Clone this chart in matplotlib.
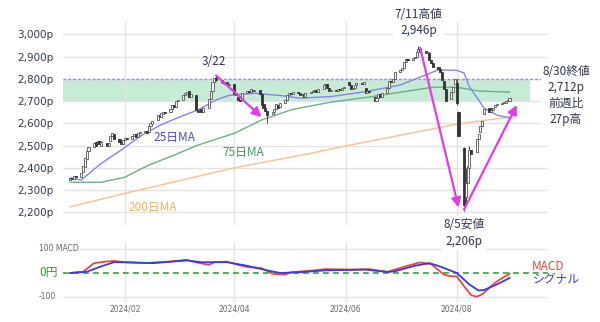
import matplotlib
matplotlib.use("Agg")
import matplotlib.pyplot as plt
import matplotlib.dates as mdates
import numpy as np
import pandas as pd

JP = ['Noto Sans CJK JP', 'DejaVu Sans']

# ---------------- data ----------------
days = pd.bdate_range('2024-01-02', '2024-08-30')

opens = [
    # Jan
    2345, 2355, 2350, 2360, 2360, 2380, 2405, 2440, 2475, 2495, 2515, 2505, 2520, 2500, 2510, 2500,
    2520, 2545, 2550, 2530, 2515, 2505,
    # Feb
    2525, 2535, 2530, 2545, 2550, 2540, 2555, 2560, 2565, 2560, 2590, 2595, 2615, 2635, 2630, 2640,
    2650, 2650, 2665, 2680, 2675,
    # Mar
    2700, 2705, 2725, 2730, 2745, 2720, 2725, 2660, 2655, 2665, 2650, 2670, 2710, 2745, 2785, 2805,
    2795, 2785, 2775, 2785, 2770,
    # Apr
    2775, 2735, 2720, 2705, 2705, 2735, 2745, 2740, 2750, 2745, 2750, 2730, 2685, 2670, 2655, 2640,
    2650, 2665, 2680, 2675, 2690, 2705,
    # May
    2725, 2735, 2730, 2740, 2735, 2725, 2730, 2720, 2735, 2740, 2745, 2750, 2740, 2755, 2770, 2775,
    2760, 2745, 2750, 2745, 2755, 2750, 2760,
    # Jun
    2785, 2770, 2755, 2760, 2770, 2780, 2775, 2760, 2735, 2745, 2720, 2700, 2715, 2730, 2720, 2735,
    2760, 2790, 2785, 2800,
    # Jul
    2830, 2840, 2850, 2875, 2890, 2885, 2895, 2900, 2920, 2935, 2925, 2915, 2915, 2885, 2870, 2855,
    2845, 2830, 2790, 2755, 2710, 2740, 2775,
    # Aug
    2780, 2650, 2490, 2270, 2330, 2400, 2480, 2470, 2530, 2560, 2590, 2640, 2670, 2650, 2660, 2675,
    2680, 2685, 2690, 2690, 2700, 2700,
]
closes = [
    # Jan
    2355, 2350, 2362, 2358, 2378, 2410, 2445, 2475, 2495, 2510, 2500, 2520, 2505, 2515, 2500, 2510,
    2545, 2555, 2530, 2515, 2505, 2525,
    # Feb
    2535, 2530, 2545, 2550, 2540, 2555, 2560, 2565, 2555, 2590, 2600, 2610, 2635, 2630, 2645, 2650,
    2645, 2665, 2680, 2675, 2700,
    # Mar
    2705, 2725, 2735, 2740, 2720, 2730, 2660, 2650, 2665, 2650, 2670, 2710, 2745, 2785, 2805, 2795,
    2785, 2780, 2785, 2770, 2775,
    # Apr
    2730, 2725, 2705, 2700, 2735, 2745, 2740, 2755, 2745, 2750, 2730, 2680, 2670, 2655, 2635, 2650,
    2665, 2685, 2670, 2690, 2705, 2725,
    # May
    2735, 2730, 2740, 2735, 2725, 2730, 2720, 2735, 2740, 2745, 2750, 2740, 2755, 2770, 2775, 2760,
    2745, 2750, 2745, 2755, 2750, 2760, 2765,
    # Jun
    2770, 2755, 2760, 2770, 2780, 2775, 2785, 2735, 2745, 2740, 2700, 2715, 2730, 2720, 2735, 2760,
    2790, 2785, 2800, 2830,
    # Jul
    2840, 2850, 2875, 2890, 2885, 2895, 2900, 2920, 2935, 2925, 2915, 2920, 2885, 2870, 2855, 2845,
    2830, 2795, 2755, 2700, 2740, 2765, 2800,
    # Aug
    2690, 2545, 2235, 2330, 2410, 2480, 2460, 2530, 2550, 2590, 2610, 2665, 2650, 2660, 2670, 2680,
    2685, 2690, 2695, 2700, 2705, 2712,
]

# notable wicks
wick_dates = ['2024-03-22', '2024-04-19', '2024-07-11', '2024-08-01', '2024-08-05', '2024-08-06', '2024-08-08']
wick_high = [2815, 2655, 2946, 2800, 2495, 2400, 2500]
wick_low = [2790, 2600, 2920, 2680, 2206, 2230, 2390]

ma25_dates = ['2024-01-02', '2024-01-08', '2024-01-19', '2024-01-30', '2024-02-09', '2024-02-20', '2024-03-01',
              '2024-03-12', '2024-03-22', '2024-03-29', '2024-04-12', '2024-04-26', '2024-05-07', '2024-05-24',
              '2024-06-12', '2024-07-01', '2024-07-15', '2024-07-22', '2024-08-01', '2024-08-05', '2024-08-08',
              '2024-08-13', '2024-08-16', '2024-08-23', '2024-08-30']
ma25 = [2355, 2345, 2420, 2480, 2540, 2590, 2625, 2660, 2705, 2725, 2735, 2725, 2713, 2720,
        2742, 2772, 2817, 2840, 2838, 2826, 2763, 2705, 2668, 2637, 2624]

ma75_dates = ['2024-01-02', '2024-01-19', '2024-02-01', '2024-02-14', '2024-02-28', '2024-03-12', '2024-04-01',
              '2024-04-16', '2024-05-02', '2024-05-08', '2024-05-24', '2024-06-14', '2024-07-03', '2024-07-19',
              '2024-08-01', '2024-08-13', '2024-08-30']
ma75 = [2335, 2335, 2358, 2412, 2457, 2502, 2555, 2615, 2660, 2670, 2695, 2718, 2742, 2762, 2762, 2745, 2740]

ma200_dates = ['2024-01-02', '2024-02-01', '2024-04-01', '2024-05-08', '2024-06-01', '2024-08-01', '2024-08-30']
ma200 = [2225, 2285, 2400, 2457, 2498, 2596, 2628]

macd_dates = ['2024-01-02', '2024-01-09', '2024-01-15', '2024-01-22', '2024-01-26', '2024-02-01', '2024-02-12',
              '2024-02-26', '2024-03-06', '2024-03-11', '2024-03-18', '2024-03-21', '2024-03-28', '2024-04-03',
              '2024-04-08', '2024-04-16', '2024-04-22', '2024-04-29', '2024-05-02', '2024-05-15', '2024-05-21',
              '2024-06-03', '2024-06-14', '2024-06-24', '2024-06-28', '2024-07-05', '2024-07-12', '2024-07-18',
              '2024-07-25', '2024-07-29', '2024-08-01', '2024-08-05', '2024-08-09', '2024-08-12', '2024-08-15',
              '2024-08-22', '2024-08-26', '2024-08-30']
macd = [0, 5, 41, 48, 50, 45, 41, 48, 55, 44, 34, 45, 47, 34, 25, 20, -3, -7, 3, 11, 16, 14, 16, 5, 14,
        30, 44, 37, -7, -14, -14, -55, -93, -99, -89, -41, -21, -3]

sig_dates = ['2024-01-02', '2024-01-11', '2024-01-18', '2024-01-26', '2024-02-05', '2024-02-16', '2024-03-06',
             '2024-03-14', '2024-03-28', '2024-04-08', '2024-04-19', '2024-04-26', '2024-05-07', '2024-05-21',
             '2024-06-12', '2024-06-24', '2024-06-28', '2024-07-09', '2024-07-17', '2024-07-23', '2024-08-01',
             '2024-08-08', '2024-08-13', '2024-08-16', '2024-08-23', '2024-08-30']
signal = [0, 5, 25, 45, 44, 41, 52, 45, 45, 30, 11, 0, 3, 11, 14, 4, 7, 30, 41, 27, 0, -48, -73, -71, -48, -21]

yticks = [2200, 2300, 2400, 2500, 2600, 2700, 2800, 2900, 3000]
month_ticks = ['2024-02-01', '2024-04-01', '2024-06-01', '2024-08-01']
month_labels = ['2024/02', '2024/04', '2024/06', '2024/08']

# ---------------- figure ----------------
W, H = 600, 322
fig = plt.figure(figsize=(W / 100, H / 100), dpi=100)


def rect(x0, y0, x1, y1):
    return [x0 / W, 1 - y1 / H, (x1 - x0) / W, (y1 - y0) / H]


ax2 = fig.add_axes(rect(63, 243, 548, 302))
ax = fig.add_axes(rect(63, 22, 548, 225))
ax.patch.set_visible(False)
ax2.patch.set_visible(False)

d = lambda s: mdates.date2num(pd.Timestamp(s))
x0 = d('2024-02-01') - 34.0
x1 = d('2024-08-01') + 50.1
xd = mdates.date2num(days)

grid_c = '#e3e3e3'
for a in (ax, ax2):
    a.set_xlim(x0, x1)
    for s in a.spines.values():
        s.set_visible(False)
    a.set_xticks([d(m) for m in month_ticks])
    a.grid(axis='x', color=grid_c, lw=1)
    a.set_axisbelow(True)
    a.tick_params(length=0)

# main panel
ax.set_ylim(2143, 3055)
ax.set_yticks(yticks)
ax.set_yticklabels([f'{v:,}p' for v in yticks], fontsize=7.5, color='#333a4a')
ax.tick_params(axis='y', pad=7)
ax.set_xticklabels([])
ax.grid(axis='y', color=grid_c, lw=1)

ax.axhspan(2700, 2800, xmin=0, xmax=(530 - 63) / (548 - 63), color='#c6ebd6', zorder=0.5, lw=0)
ax.axhline(2800, color='#9a8ee0', lw=1, ls=(0, (2, 1.5)), zorder=1)

ax.plot(mdates.date2num(pd.to_datetime(ma200_dates)), ma200, color='#f8c494', lw=1.1, zorder=2)
ax.plot(mdates.date2num(pd.to_datetime(ma75_dates)), ma75, color='#6fae86', lw=1.0, zorder=2)
ax.plot(mdates.date2num(pd.to_datetime(ma25_dates)), ma25, color='#8585e6', lw=1.0, zorder=2)

# candles
for wd, hi, lo in zip(wick_dates, wick_high, wick_low):
    ax.vlines(d(wd), lo, hi, color='#444444', lw=0.7, zorder=3)
bw = 1.15
for xx, o, c in zip(xd, opens, closes):
    lo, hi = min(o, c), max(o, c)
    if hi - lo < 4:
        hi = lo + 4
    if c >= o:
        ax.bar(xx, hi - lo, bottom=lo, width=bw, color='white', edgecolor='#555555', lw=0.6, zorder=4)
    else:
        ax.bar(xx, hi - lo, bottom=lo, width=bw, color='#333333', edgecolor='#333333', lw=0.6, zorder=4)

# arrows
mag = '#e23ce2'
aprops = dict(arrowstyle='-|>,head_length=0.55,head_width=0.28', color=mag, lw=1.6, shrinkA=0, shrinkB=0)
ax.annotate('', xy=(d('2024-04-16'), 2628), xytext=(d('2024-03-22'), wick_high[0]), arrowprops=aprops, zorder=6)
ax.annotate('', xy=(d('2024-08-02'), 2222), xytext=(d('2024-07-12'), 2938), arrowprops=aprops, zorder=6)
ax.annotate('', xy=(d('2024-09-03'), 2682), xytext=(d('2024-08-05'), 2212), arrowprops=aprops, zorder=6)

tc = '#2f3550'
ax.text(d('2024-03-21'), 2878, '3/22', fontsize=8.5, color=tc, ha='center', va='center', family=JP)
ax.text(d('2024-07-11'), 3051, '7/11高値\n2,946p', fontsize=8.5, color=tc, ha='center', va='center',
        family=JP, linespacing=1.3, clip_on=False,
        bbox=dict(boxstyle='square,pad=0.1', fc='white', ec='none'), zorder=7)
ax.text(d('2024-08-05'), 2108, '8/5安値\n2,206p', fontsize=8.5, color=tc, ha='center', va='center',
        family=JP, linespacing=1.4, clip_on=False,
        bbox=dict(boxstyle='square,pad=0.15', fc='white', ec='none'), zorder=7)
ax.text(d('2024-09-30'), 2727, '8/30終値\n2,712p\n前週比\n27p高', fontsize=8.5, color=tc, ha='center',
        va='center', family=JP, linespacing=1.3, clip_on=False,
        bbox=dict(boxstyle='square,pad=0.1', fc='white', ec='none'), zorder=7)

ax.text(d('2024-02-28'), 2535, '25日MA', fontsize=8.5, color='#4a4ac4', ha='center', va='center', family=JP)
ax.text(d('2024-04-06'), 2468, '75日MA', fontsize=8.5, color='#3f9e55', ha='center', va='center', family=JP)
ax.text(d('2024-02-16'), 2220, '200日MA', fontsize=8.5, color='#f2b25a', ha='center', va='center', family=JP)

# MACD panel
ax2.set_ylim(-121, 125)
ax2.set_yticks([])
ax2.set_xticklabels(month_labels, fontsize=5.5, color='#666666')
ax2.tick_params(axis='x', pad=2)
ax2.axhline(100, color=grid_c, lw=1, zorder=0)
ax2.axhline(-100, color=grid_c, lw=1, zorder=0)
ax2.axhline(0, color='#3aa03a', lw=1.2, ls=(0, (3.5, 2.5)), zorder=1)
ax2.plot(mdates.date2num(pd.to_datetime(macd_dates)), macd, color='#e84545', lw=1.3, zorder=3)
ax2.plot(mdates.date2num(pd.to_datetime(sig_dates)), signal, color='#3a3ae0', lw=1.3, zorder=3)

ax2.text(x0 - 13, 100, '100 MACD', fontsize=5.5, color='#666666', ha='left', va='center',
         bbox=dict(boxstyle='square,pad=0.1', fc='white', ec='none'), clip_on=False, zorder=5)
ax2.text(x0 - 4, -100, '-100', fontsize=5.5, color='#666666', ha='right', va='center', clip_on=False)
ax2.text(x0 - 3, 0, '0円', fontsize=8.5, color='#3a9a3a', ha='right', va='center', family=JP, clip_on=False)
ax2.text(d('2024-09-11'), 28, 'MACD', fontsize=8.5, color='#e84545', ha='left', va='center', family=JP,
         clip_on=False)
ax2.text(d('2024-09-12'), -27, 'シグナル', fontsize=8.5, color='#3a3ae0', ha='left', va='center', family=JP,
         clip_on=False)

fig.savefig('out.png', dpi=100, facecolor='white')
